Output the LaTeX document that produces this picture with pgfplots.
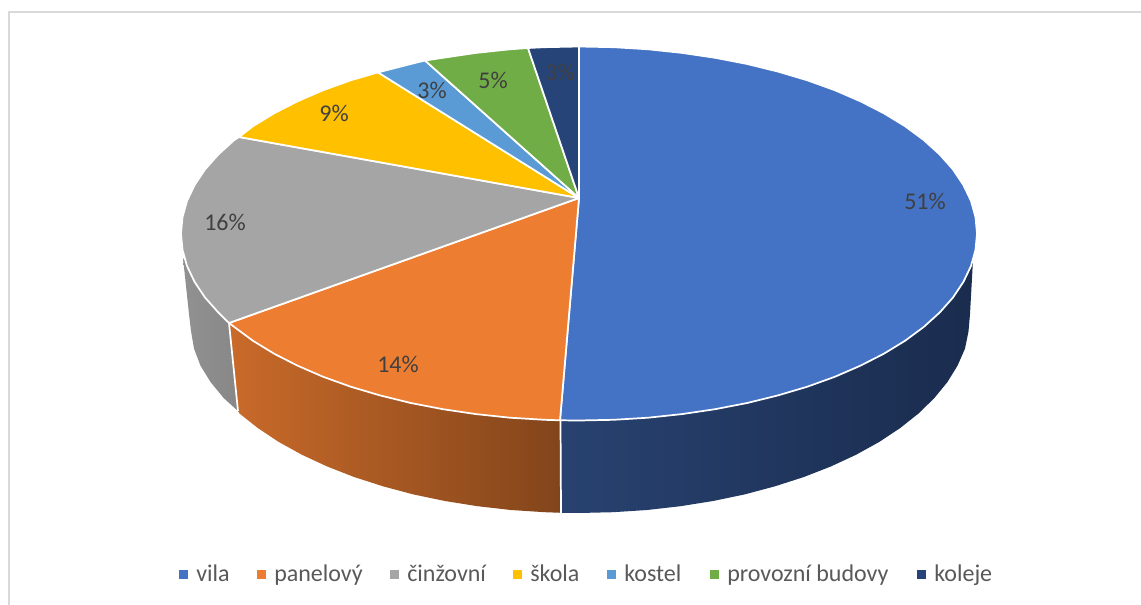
\documentclass[border=0pt]{standalone}
\usepackage{pgfplots}
\usepackage{fontspec}
\setmainfont{Carlito}
\pgfplotsset{compat=1.18}
\definecolor{cVila}{HTML}{4472C4}
\definecolor{cPanel}{HTML}{ED7D31}
\definecolor{cCinz}{HTML}{A5A5A5}
\definecolor{cSkola}{HTML}{FFC000}
\definecolor{cKostel}{HTML}{5B9BD5}
\definecolor{cProv}{HTML}{70AD47}
\definecolor{cKoleje}{HTML}{264478}
\definecolor{frameGray}{HTML}{D9D9D9}
\definecolor{valText}{HTML}{404040}
\definecolor{legText}{HTML}{595959}
\definecolor{rimA}{HTML}{284270}
\definecolor{rimB}{HTML}{1C2F52}
\definecolor{rimC}{HTML}{1A2C4E}
\begin{document}
\begin{tikzpicture}
\begin{axis}[
  hide axis, scale only axis,
  width=855.75pt, height=453.75pt,
  xmin=0, xmax=1141, ymin=0, ymax=605,
  y dir=reverse, enlargelimits=false, clip=true,
  wedge/.style={draw=white, line width=1.3pt, line join=round},
  side/.style={draw=none},
  key/.style={only marks, mark=square*, mark size=3pt, mark options={draw=none}},
]
% page background and chart-area frame
\addplot[fill=white, draw=none] coordinates {(0,0) (1141,0) (1141,605) (0,605)} -- cycle;
\addplot[frameGray, line width=1.5pt] coordinates {(9,606) (9,12) (1142,12)};

% rim of the pie: side faces, right to left
\addplot[side, left color=rimA, middle color=rimB, right color=rimC] coordinates {
 (973,260) (970,314) (968.5,331.3) (965,348.6) (957.6,365.5) (947.4,382.1) (934.3,398.1) (918.5,413.5)
 (900.1,428.1) (879.3,441.9) (856.2,454.7) (831,466.4) (803.9,477) (775,486.3) (744.7,494.4) (713.1,501)
 (680.5,506.2) (647.1,510) (613.2,512.2) (579,513) (561,512.8) (560,420)} -- cycle;
\addplot[side, left color=cPanel!85!black, right color=cPanel!55!black] coordinates {
 (561,512.8) (544.8,512.2) (510.9,510) (477.5,506.2) (444.9,501) (413.3,494.4) (383,486.3) (354.1,477)
 (327,466.4) (301.8,454.7) (278.7,441.9) (257.9,428.1) (239.5,413.5) (238,411) (229,323) (560,420)} -- cycle;
\addplot[side, left color=cCinz!88!black, right color=cCinz!82!black] coordinates {
 (238,411) (223.7,398.1) (210.6,382.1) (200.4,365.5) (194,348.6) (191,331) (189,314) (183,258) (229,323)} -- cycle;
\addplot[white, line width=1.3pt] coordinates {(560.5,420) (561,513)};
\addplot[white, line width=1.3pt] coordinates {(229,323) (238,411)};

% top face: one wedge per category, clockwise from twelve o'clock
\addplot[wedge, fill=cVila] coordinates {
 (579,198) (579,46.5) (613.7,47.2) (648.1,49.3) (682,52.9) (715.1,57.8) (747.2,64) (778,71.6) (807.3,80.3)
 (834.8,90.2) (860.4,101.3) (883.9,113.3) (905,126.2) (923.7,140) (939.7,154.5) (953,169.5) (963.4,185.1)
 (971,201) (975.5,217.2) (977,233.5) (975.5,249.8) (971,266) (963.4,281.9) (953,297.5) (939.7,312.5)
 (923.7,327) (905,340.8) (883.9,353.7) (860.4,365.7) (834.8,376.8) (807.3,386.7) (778,395.4) (747.2,403)
 (715.1,409.2) (682,414.1) (648.1,417.7) (613.7,419.8) (579,420.5) (560,420.3)} -- cycle;
\addplot[wedge, fill=cPanel] coordinates {
 (579,198) (560,420.3) (544.3,419.8) (509.9,417.7) (476,414.1) (442.9,409.2) (410.8,403) (380,395.4)
 (350.7,386.7) (323.2,376.8) (297.6,365.7) (274.1,353.7) (253,340.8) (234.3,327) (229,323)} -- cycle;
\addplot[wedge, fill=cCinz] coordinates {
 (579,198) (229,323) (218.3,312.5) (205,297.5) (194.6,281.9) (187,266) (182.5,249.8) (181,233.5)
 (182.5,217.2) (187,201) (194.6,185.1) (205,169.5) (218.3,154.5) (234.3,140) (239,137)} -- cycle;
\addplot[wedge, fill=cSkola] coordinates {
 (579,198) (239,137) (253,126.2) (274.1,113.3) (297.6,101.3) (323.2,90.2) (350.7,80.3) (378,72.4)} -- cycle;
\addplot[wedge, fill=cKostel] coordinates {
 (579,198) (378,72.4) (410.8,64) (425,60.5)} -- cycle;
\addplot[wedge, fill=cProv] coordinates {
 (579,198) (425,60.5) (442.9,57.8) (476,52.9) (509.9,49.3) (528,48)} -- cycle;
\addplot[wedge, fill=cKoleje] coordinates {
 (579,198) (528,48) (544.3,47.2) (579,46.5)} -- cycle;

% percentage labels
\begin{scope}[every node/.style={text=valText, font=\fontsize{18pt}{20pt}\selectfont, inner sep=0pt}]
\node at (axis cs:925,201) {51\%};
\node at (axis cs:398,364) {14\%};
\node at (axis cs:225,222) {16\%};
\node at (axis cs:334,113) {9\%};
\node at (axis cs:432,90)  {3\%};
\node at (axis cs:493,80)  {5\%};
\node at (axis cs:560,72)  {3\%};
\end{scope}

% legend row
\addplot[key, cVila]   coordinates {(183,574)};
\addplot[key, cPanel]  coordinates {(261,574)};
\addplot[key, cCinz]   coordinates {(394,574)};
\addplot[key, cSkola]  coordinates {(517,574)};
\addplot[key, cKostel] coordinates {(611.5,574)};
\addplot[key, cProv]   coordinates {(714.5,574)};
\addplot[key, cKoleje] coordinates {(921,574)};
\begin{scope}[every node/.style={text=legText, font=\fontsize{18pt}{20pt}\selectfont, inner sep=0pt, anchor=base west}]
\node at (axis cs:196,581.5) {vila};
\node at (axis cs:274,581.5) {panelový};
\node at (axis cs:407,581.5) {činžovní};
\node at (axis cs:530,581.5) {škola};
\node at (axis cs:624,581.5) {kostel};
\node at (axis cs:727,581.5) {provozní budovy};
\node at (axis cs:934,581.5) {koleje};
\end{scope}
\end{axis}
\end{tikzpicture}
\end{document}
